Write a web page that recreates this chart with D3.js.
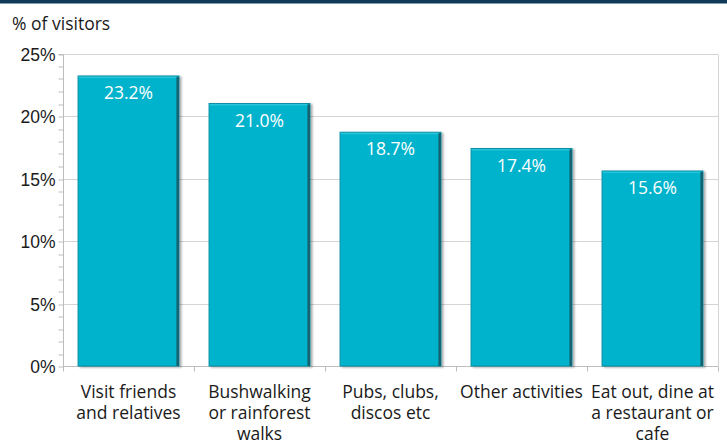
<!DOCTYPE html>
<html><head><meta charset="utf-8">
<script src="https://cdn.jsdelivr.net/npm/d3@7"></script>
<style>
body{margin:0;background:#fff;}
svg{display:block;font-family:"Open Sans","Liberation Sans",Arial,sans-serif;}
</style></head>
<body><svg id="c" width="727" height="442"></svg>
<script>
const categories = [
  ["Visit friends","and relatives"],
  ["Bushwalking","or rainforest","walks"],
  ["Pubs, clubs,","discos etc"],
  ["Other activities"],
  ["Eat out, dine at","a restaurant or","cafe"]
];
const values = [23.2, 21.0, 18.7, 17.4, 15.6];
const yTicks = [0, 5, 10, 15, 20, 25];

const svg = d3.select("#c");
const W = 727, H = 442;
const m = {left: 63, right: 9, top: 53.5, bottom: 76};
const x = d3.scaleBand().domain(d3.range(values.length)).range([m.left, W - m.right]).paddingInner(0.23).paddingOuter(0.115);
const y = d3.scaleLinear().domain([0, 25]).range([H - m.bottom, m.top]);

// top band
svg.append("rect").attr("x",0).attr("y",0).attr("width",W).attr("height",3.5).attr("fill","#0f3a58");

// gridlines
svg.append("g").selectAll("line").data(yTicks.filter(d=>d>0)).join("line")
  .attr("x1", m.left).attr("x2", W - m.right)
  .attr("y1", d=>Math.round(y(d))+0.5).attr("y2", d=>Math.round(y(d))+0.5)
  .attr("stroke","#d4d4d4").attr("stroke-width",1);
// right border
svg.append("line").attr("x1",W-m.right+0.5).attr("x2",W-m.right+0.5)
  .attr("y1",Math.round(y(25))+0.5).attr("y2",Math.round(y(0))+0.5)
  .attr("stroke","#d4d4d4");

// y axis
const yAxis = d3.axisLeft(y).tickValues(d3.range(0,26,1)).tickSize(5)
  .tickFormat(d => d%5===0 ? d+"%" : "");
const gy = svg.append("g").attr("transform",`translate(${m.left+0.5},0)`).call(yAxis);
gy.select(".domain").attr("stroke","#bdbdbd").attr("d",`M-5,${Math.round(y(25))+0.5}H0V${Math.round(y(0))+0.5}`);
gy.selectAll(".tick line").attr("stroke","#bdbdbd").attr("transform", d=>`translate(0,${Math.round(y(d))+0.5-y(d)})`);
gy.selectAll(".tick text").attr("font-size",17.5).attr("fill","#1a1a1a").attr("x",-8).attr("dy","0.38em").attr("font-family","inherit");

// x axis baseline and category ticks
const base = Math.round(y(0))+0.5;
svg.append("line").attr("x1",m.left).attr("x2",W-m.right).attr("y1",base).attr("y2",base).attr("stroke","#bdbdbd");
const bounds = d3.range(values.length+1).map(i => m.left + i*(W-m.left-m.right)/values.length);
svg.append("g").selectAll("line").data(bounds).join("line")
  .attr("x1",d=>Math.round(d)+0.5).attr("x2",d=>Math.round(d)+0.5)
  .attr("y1",base).attr("y2",base+5).attr("stroke","#bdbdbd");

// bars
const defs = svg.append("defs");
const f = defs.append("filter").attr("id","sh").attr("x","-10%").attr("y","-10%").attr("width","130%").attr("height","130%");
f.append("feGaussianBlur").attr("in","SourceAlpha").attr("stdDeviation",1.2);
f.append("feOffset").attr("dx",1.5).attr("dy",1).attr("result","b");
f.append("feComponentTransfer").append("feFuncA").attr("type","linear").attr("slope",0.35);
const mg = f.append("feMerge"); mg.append("feMergeNode"); mg.append("feMergeNode").attr("in","SourceGraphic");

const bars = svg.append("g").selectAll("g").data(values).join("g");
bars.append("rect")
  .attr("x",(d,i)=>x(i)).attr("y",d=>y(d)).attr("width",x.bandwidth()).attr("height",d=>y(0)-y(d))
  .attr("fill","#00b3cc").attr("stroke","#0a8ea3").attr("stroke-width",1).attr("filter","url(#sh)");
bars.append("rect")
  .attr("x",(d,i)=>x(i)+x.bandwidth()-2.5).attr("y",d=>y(d)+1).attr("width",2.5).attr("height",d=>y(0)-y(d)-1)
  .attr("fill","#17606f");
bars.append("rect")
  .attr("x",(d,i)=>x(i)+0.5).attr("y",d=>y(d)+0.5).attr("width",x.bandwidth()-3).attr("height",1.5)
  .attr("fill","#3fd0e2").attr("opacity",0.6);
bars.append("text")
  .attr("x",(d,i)=>x(i)+x.bandwidth()/2).attr("y",d=>y(d)+23)
  .attr("text-anchor","middle").attr("font-size",17.5).attr("fill","#fff")
  .text(d=>d.toFixed(1)+"%");

// category labels
const cl = svg.append("g").selectAll("text").data(categories).join("text")
  .attr("x",(d,i)=>x(i)+x.bandwidth()/2).attr("y",base+31.5)
  .attr("text-anchor","middle").attr("font-size",17.5).attr("fill","#1a1a1a");
cl.selectAll("tspan").data(d=>d).join("tspan")
  .attr("x",function(){return this.parentNode.getAttribute("x");})
  .attr("dy",(d,i)=>i===0?0:21).text(d=>d);

// title
svg.append("text").attr("x",12).attr("y",30).attr("font-size",17.5).attr("fill","#1a1a1a").text("% of visitors");
</script></body></html>
